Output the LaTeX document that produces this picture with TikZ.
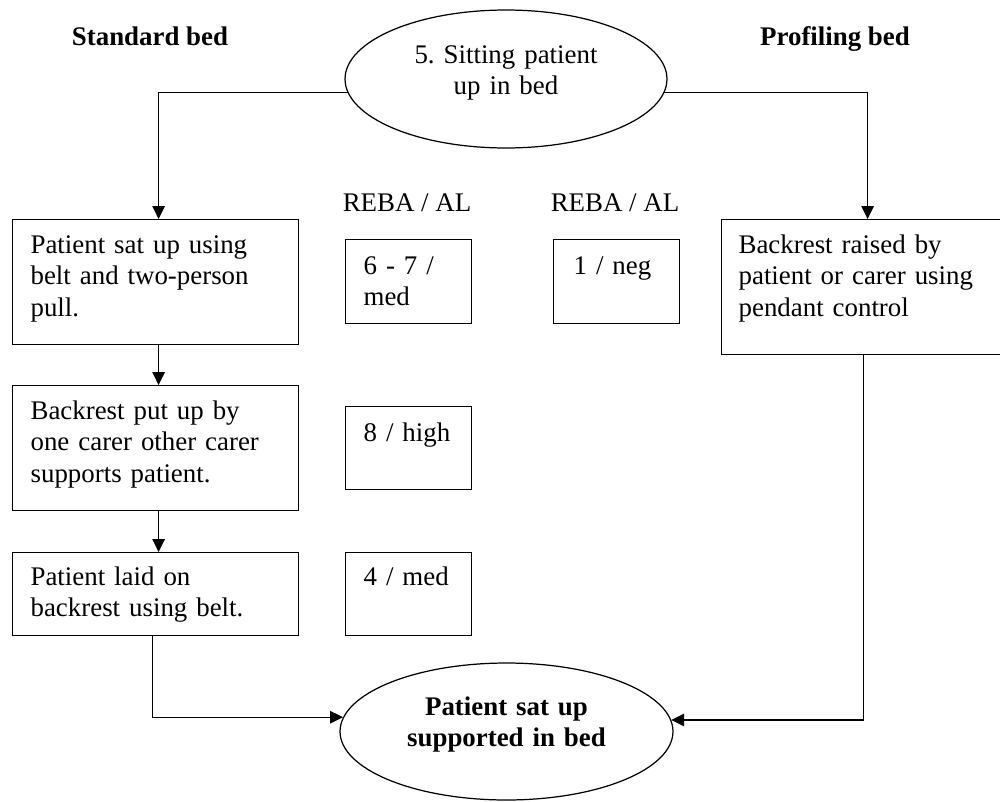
\documentclass[tikz,border=0pt]{standalone}
\usepackage{fontspec}
\setmainfont{Liberation Serif}
\usetikzlibrary{shapes.geometric,arrows.meta}
\begin{document}
\begin{tikzpicture}[x=0.02cm,y=-0.02cm,
  font=\frenchspacing\fontsize{15.3}{18.2}\selectfont,
  line width=0.7pt,
  bx/.style={draw,rectangle,inner sep=0pt,anchor=north west},
  oval/.style={draw,ellipse,inner sep=0pt},
  txt/.style={inner sep=0pt,anchor=base west,text width=5.6cm,align=left},
  ctxt/.style={inner sep=0pt,anchor=base,text width=7cm,align=center},
  arr/.style={-{Triangle[length=0.26cm,width=0.25cm]}}]
\useasboundingbox (0,0) rectangle (1000,801);
% headers
\node[inner sep=0pt,anchor=base] (hstd) at (150,45) {\textbf{Standard bed}};
\node[inner sep=0pt,anchor=base] (hprof) at (835,45) {\textbf{Profiling bed}};
% top ellipse
\node[oval,minimum width=6.44cm,minimum height=2.76cm] (top) at (506,79) {};
\node[ctxt] (toptxt) at (506,63) {5. Sitting patient\\up in bed};
% REBA headers
\node[inner sep=0pt,anchor=base] (reba1) at (407,211) {REBA / AL};
\node[inner sep=0pt,anchor=base] (reba2) at (615,211) {REBA / AL};
% left column boxes
\node[bx,minimum width=5.72cm,minimum height=2.50cm] (b1) at (12,219) {};
\node[txt] (b1t) at (30,253) {Patient sat up using\\belt and two-person\\pull.};
\node[bx,minimum width=5.72cm,minimum height=2.50cm] (b2) at (12,385) {};
\node[txt] (b2t) at (30,419) {Backrest put up by\\one carer other carer\\supports patient.};
\node[bx,minimum width=5.72cm,minimum height=1.66cm] (b3) at (12,552) {};
\node[txt] (b3t) at (30,585) {Patient laid on\\backrest using belt.};
% score boxes
\node[bx,minimum width=2.52cm,minimum height=1.68cm] (s1) at (345,239) {};
\node[txt] (s1t) at (363,274) {6 - 7 /\\med};
\node[bx,minimum width=2.52cm,minimum height=1.68cm] (s2) at (553,239) {};
\node[txt] (s2t) at (573,274) {1 / neg};
\node[bx,minimum width=2.52cm,minimum height=1.66cm] (s3) at (345,406) {};
\node[txt] (s3t) at (363,441) {8 / high};
\node[bx,minimum width=2.52cm,minimum height=1.66cm] (s4) at (345,552) {};
\node[txt] (s4t) at (363,585) {4 / med};
% right box
\node[bx,minimum width=5.8cm,minimum height=2.70cm] (rb) at (721,219) {};
\node[txt] (rbt) at (738,253) {Backrest raised by\\patient or carer using\\pendant control};
% bottom ellipse
\node[oval,minimum width=6.66cm,minimum height=2.74cm] (bot) at (506.5,731.5) {};
\node[ctxt] (bottxt) at (506.5,715) {\textbf{Patient sat up}\\\textbf{supported in bed}};
% connectors
\draw[arr] (top.185) -| ([xshift=0.06cm]b1.north);
\draw[arr] (top.-5) -| ([xshift=0.02cm]rb.north);
\draw[arr] ([xshift=0.06cm]b1.south) -- ([xshift=0.06cm]b2.north);
\draw[arr] ([xshift=0.06cm]b2.south) -- ([xshift=0.06cm]b3.north);
\draw[arr] ([xshift=-0.06cm]b3.south) |- (bot.175.6);
\draw[arr] ([xshift=-0.06cm]rb.south) |- (bot.4.4);
\end{tikzpicture}
\end{document}
